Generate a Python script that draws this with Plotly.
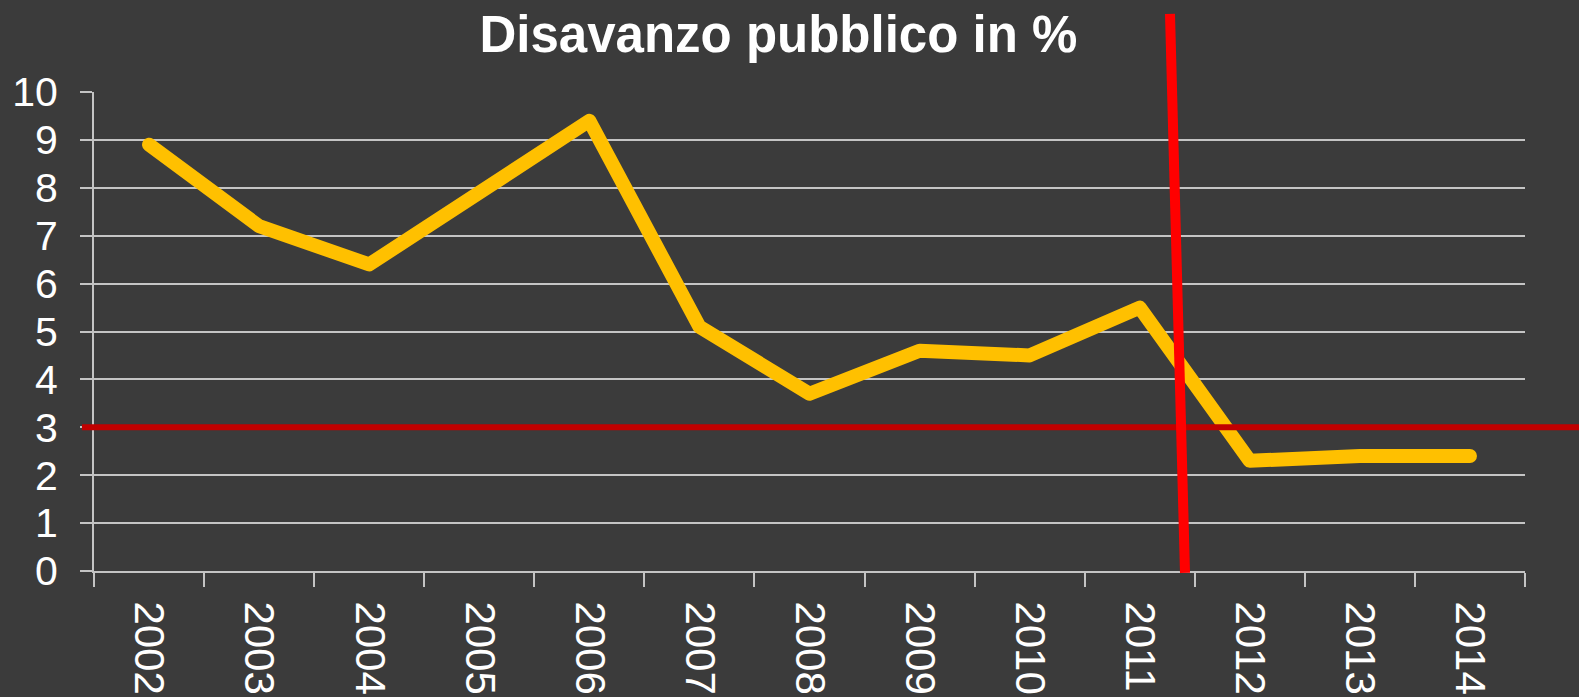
import plotly.graph_objects as go

years = ["2002", "2003", "2004", "2005", "2006", "2007", "2008",
         "2009", "2010", "2011", "2012", "2013", "2014"]
deficit = [8.9, 7.2, 6.4, 7.9, 9.4, 5.1, 3.7, 4.6, 4.5, 5.5, 2.3, 2.4, 2.4]
threshold = 3
title_text = "Disavanzo pubblico in %"

BG = "#3b3b3b"
GRID = "#c4c4c4"

fig = go.Figure()
fig.add_trace(go.Scatter(
    x=list(range(len(years))), y=deficit, mode="lines",
    line=dict(color="#FFC000", width=14),
    hoverinfo="skip", showlegend=False,
))

# horizontal 3% threshold line
fig.add_shape(type="line", xref="paper", yref="y",
              x0=-0.0084, x1=1.04, y0=threshold, y1=threshold,
              line=dict(color="#C00000", width=6), layer="above")
# slanted red marker line
fig.add_shape(type="line", xref="paper", yref="paper",
              x0=(1170 - 94) / 1431, x1=(1185 - 94) / 1431,
              y0=1.163, y1=-0.004,
              line=dict(color="#FF0000", width=10), layer="above")

fig.update_layout(
    width=1579, height=697,
    paper_bgcolor=BG, plot_bgcolor=BG,
    margin=dict(l=94, r=54, t=92, b=126, autoexpand=False),
    title=dict(text=title_text, x=0.493, xanchor="center", y=0.951, yanchor="middle",
               font=dict(family="Liberation Sans", size=51, color="white", weight="bold")),
    font=dict(family="Liberation Sans", color="white"),
)
fig.update_xaxes(
    range=[-0.5, len(years) - 0.5], automargin=False,
    tickmode="array", tickvals=list(range(len(years))), ticktext=years,
    tickangle=90, tickfont=dict(size=42, color="white"),
    showgrid=False, showline=True, linecolor=GRID, linewidth=2,
    ticks="", zeroline=False, ticklabelstandoff=20,
    minor=dict(tickmode="array", tickvals=[i - 0.5 for i in range(len(years) + 1)],
               ticks="outside", ticklen=14, tickcolor=GRID, tickwidth=2, showgrid=False),
)
fig.update_yaxes(
    range=[0, 10], dtick=1, tickfont=dict(size=41, color="white"), automargin=False,
    showgrid=True, gridcolor=GRID, gridwidth=2,
    showline=True, linecolor=GRID, linewidth=2,
    ticks="outside", ticklen=12, tickcolor=GRID, tickwidth=2,
    zeroline=False, ticklabelstandoff=14,
)

post = """
document.documentElement.style.margin='0';
document.documentElement.style.background='%s';
document.body.style.margin='0';
document.body.style.padding='0';
document.body.style.overflow='hidden';
document.body.style.background='%s';
document.querySelectorAll('.scatterlayer path.js-line').forEach(function(p){
  p.style.strokeLinecap='round'; p.style.strokeLinejoin='round';
});
""" % (BG, BG)

fig.write_html("out.html", post_script=post, config={"displayModeBar": False})
